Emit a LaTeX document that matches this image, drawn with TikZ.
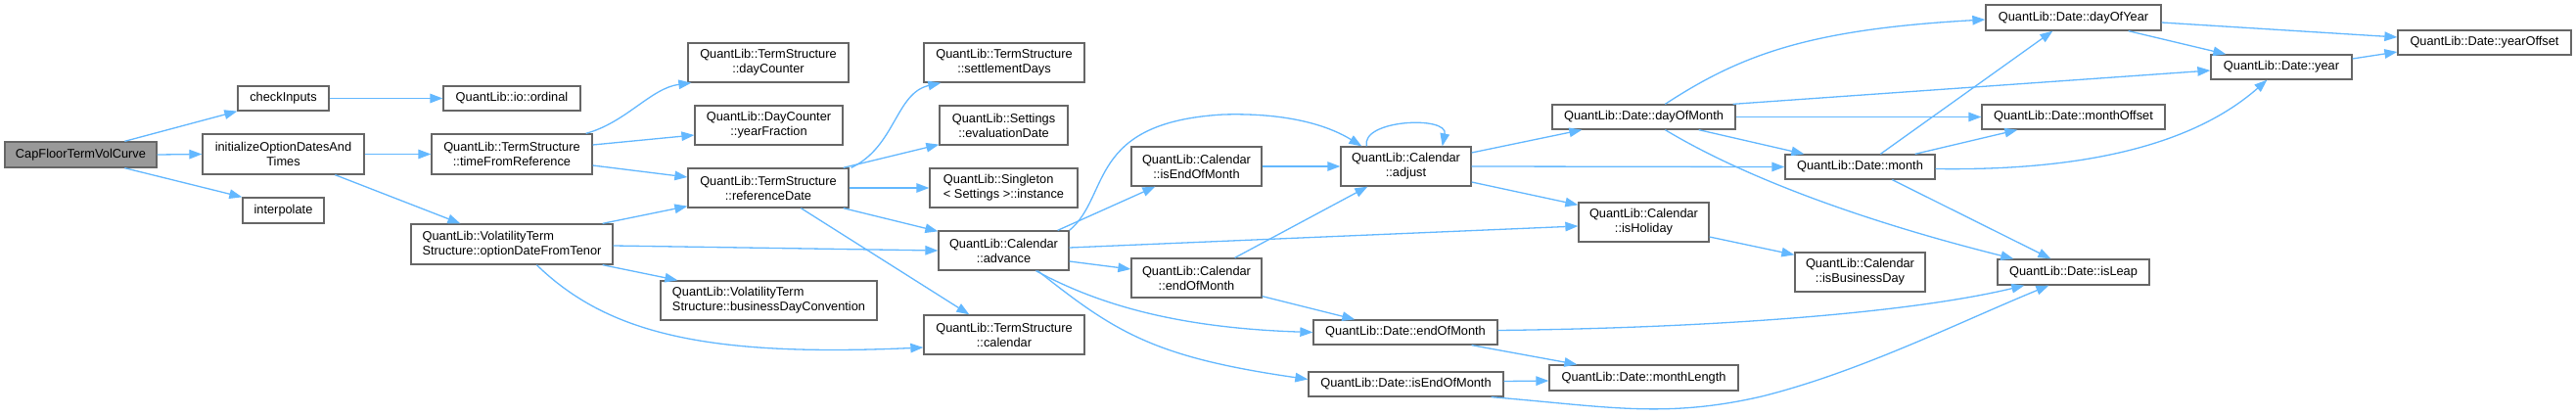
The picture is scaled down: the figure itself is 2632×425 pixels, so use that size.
\documentclass[tikz,border=0pt]{standalone}
\usepackage{fontspec}
\setmainfont{Liberation Sans}
\usetikzlibrary{arrows.meta,calc}
\definecolor{edgeblue}{HTML}{63B8FF}
\definecolor{boxborder}{HTML}{666666}
\definecolor{rootfill}{HTML}{999999}
\begin{document}
\begin{tikzpicture}[x=1pt,y=-1pt,
  fn/.style={draw=boxborder, fill=white, line width=1.3pt, inner sep=0pt,
    font=\fontsize{12.8}{15}\selectfont, align=center, text=black},
  rootnode/.style={fn, fill=rootfill},
  call/.style={draw=edgeblue, line width=1.3pt, -{Triangle[length=13pt,width=9.5pt]}}]
\fill[white] (0,0) rectangle (2632,425);
\useasboundingbox (0,0) rectangle (2632,425);

% nodes
\node[rootnode, minimum width=155pt, minimum height=26pt] (root) at (82.5,158) {CapFloorTermVolCurve};
\node[fn, minimum width=93pt, minimum height=25pt] (check) at (289.5,100.5) {checkInputs};
\node[fn, minimum width=165pt, minimum height=41pt] (init) at (289.5,157.5) {initializeOptionDatesAnd\\Times};
\node[fn, minimum width=83pt, minimum height=26pt] (interp) at (289.5,215) {interpolate};
\node[fn, minimum width=140pt, minimum height=25pt] (ordinal) at (523,100.5) {QuantLib::io::ordinal};
\node[fn, minimum width=164pt, minimum height=41pt] (tfr) at (523,157.5) {QuantLib::TermStructure\\::timeFromReference};
\node[fn, align=left, minimum width=206pt, minimum height=41pt] (odft) at (523,249.5) {QuantLib::VolatilityTerm\\Structure::optionDateFromTenor};
\node[fn, minimum width=164pt, minimum height=40pt] (dayc) at (785,64) {QuantLib::TermStructure\\::dayCounter};
\node[fn, minimum width=151pt, minimum height=40pt] (yfrac) at (785.5,128) {QuantLib::DayCounter\\::yearFraction};
\node[fn, minimum width=164pt, minimum height=40pt] (refd) at (785,192) {QuantLib::TermStructure\\::referenceDate};
\node[fn, align=left, minimum width=221pt, minimum height=40pt] (bdc) at (785.5,307) {QuantLib::VolatilityTerm\\Structure::businessDayConvention};
\node[fn, minimum width=164pt, minimum height=40pt] (settle) at (1026,64) {QuantLib::TermStructure\\::settlementDays};
\node[fn, minimum width=131pt, minimum height=40pt] (evald) at (1025.5,128) {QuantLib::Settings\\::evaluationDate};
\node[fn, align=left, minimum width=151pt, minimum height=40pt] (inst) at (1025.5,192) {QuantLib::Singleton\\< Settings >::instance};
\node[fn, minimum width=133pt, minimum height=40pt] (adv) at (1025.5,256) {QuantLib::Calendar\\::advance};
\node[fn, minimum width=164pt, minimum height=40pt] (tscal) at (1026,342) {QuantLib::TermStructure\\::calendar};
\node[fn, minimum width=133pt, minimum height=40pt] (cieom) at (1222.5,170) {QuantLib::Calendar\\::isEndOfMonth};
\node[fn, minimum width=133pt, minimum height=40pt] (ceom) at (1222.5,284) {QuantLib::Calendar\\::endOfMonth};
\node[fn, minimum width=133pt, minimum height=40pt] (adjust) at (1436.5,170) {QuantLib::Calendar\\::adjust};
\node[fn, minimum width=187pt, minimum height=25pt] (dom) at (1679.5,119.5) {QuantLib::Date::dayOfMonth};
\node[fn, minimum width=153pt, minimum height=25pt] (month) at (1900.5,170.5) {QuantLib::Date::month};
\node[fn, minimum width=133pt, minimum height=40pt] (hol) at (1679.5,227) {QuantLib::Calendar\\::isHoliday};
\node[fn, minimum width=133pt, minimum height=40pt] (bday) at (1900.5,278) {QuantLib::Calendar\\::isBusinessDay};
\node[fn, minimum width=188pt, minimum height=25pt] (deom) at (1436,339.5) {QuantLib::Date::endOfMonth};
\node[fn, minimum width=193pt, minimum height=26pt] (mlen) at (1679.5,386) {QuantLib::Date::monthLength};
\node[fn, minimum width=199pt, minimum height=25pt] (disEom) at (1436.5,392.5) {QuantLib::Date::isEndOfMonth};
\node[fn, minimum width=179pt, minimum height=26pt] (doy) at (2118.5,18) {QuantLib::Date::dayOfYear};
\node[fn, minimum width=177pt, minimum height=25pt] (yoff) at (2538.5,43.5) {QuantLib::Date::yearOffset};
\node[fn, minimum width=144pt, minimum height=25pt] (year) at (2331,68.5) {QuantLib::Date::year};
\node[fn, minimum width=187pt, minimum height=25pt] (moff) at (2118.5,119.5) {QuantLib::Date::monthOffset};
\node[fn, minimum width=155pt, minimum height=26pt] (leap) at (2118.5,278) {QuantLib::Date::isLeap};

% edges
\draw[call] ($(root.north west)+(123,0)$) -- (check.south west);
\draw[call] (root.east) -- (init.west);
\draw[call] ($(root.south west)+(123,0)$) -- (interp.north west);
\draw[call] (check.east) -- (ordinal.west);
\draw[call] (init.east) -- (tfr.west);
\draw[call] ($(init.south west)+(136,0)$) -- ($(odft.north west)+(51,0)$);
\draw[call] ($(tfr.north east)+(-7,0)$) .. controls (640,125) and (665,90) .. ($(dayc.south west)+(4,0)$);
\draw[call] ($(tfr.east)+(0,-9.5)$) -- ($(yfrac.west)+(0,10)$);
\draw[call] ($(tfr.east)+(0,11.5)$) -- ($(refd.west)+(0,-11)$);
\draw[call] ($(odft.north east)+(-11,0)$) -- ($(refd.south west)+(0,-2)$);
\draw[call] ($(odft.east)+(0,1.5)$) -- (adv.west);
\draw[call] ($(odft.south east)+(-11,0)$) -- ($(bdc.north west)+(18,0)$);
\draw[call] ($(odft.south west)+(129,0)$) .. controls (620,340) and (720,365) .. ($(tscal.west)+(0,13)$);
\draw[call] ($(refd.north east)+(2,0)$) .. controls (915,150) and (915,95) .. ($(settle.south west)+(18,0)$);
\draw[call] ($(refd.north east)+(-6,0)$) -- ($(evald.south west)+(0,-1)$);
\draw[call] (refd.east) -- (inst.west);
\draw[call] ($(refd.south east)+(-6,0)$) -- ($(adv.north west)+(0,1)$);
\draw[call] ($(refd.south west)+(116,0)$) -- ($(tscal.north west)+(47,0)$);
\draw[call] ($(adv.north east)+(-12,0)$) -- ($(cieom.south west)+(25,0)$);
\draw[call] (adv.north east) .. controls (1135,200) and (1110,125) .. (1250,117) .. controls (1320,115) and (1360,130) .. ($(adjust.north west)+(22,0)$);
\draw[call] ($(adv.east)+(0,-3)$) -- ($(hol.west)+(0,4)$);
\draw[call] ($(adv.east)+(0,11)$) -- ($(ceom.west)+(0,-9)$);
\draw[call] ($(adv.south west)+(100,0)$) .. controls (1120,310) and (1200,335) .. (deom.west);
\draw[call] ($(adv.south west)+(102,0)$) .. controls (1140,340) and (1180,365) .. ($(disEom.west)+(0,-5)$);
\draw[call] (cieom.east) -- (adjust.west);
\draw[call] ($(ceom.north east)+(-28,0)$) -- ($(adjust.south west)+(28,0)$);
\draw[call] ($(ceom.south east)+(0,-2)$) -- ($(deom.north west)+(43,0)$);
\draw[call] ($(adjust.north west)+(27,0)$) .. controls (1390,122) and (1480,118) .. ($(adjust.north east)+(-30,0)$);
\draw[call] ($(adjust.east)+(0,-14)$) -- ($(dom.south west)+(31,0)$);
\draw[call] (adjust.east) -- (month.west);
\draw[call] ($(adjust.east)+(0,16)$) -- ($(hol.north west)+(0,3)$);
\draw[call] ($(hol.east)+(0,15)$) -- ($(bday.north west)+(0,3)$);
\draw[call] ($(dom.north west)+(116,0)$) .. controls (1780,55) and (1850,30) .. ($(doy.west)+(0,2)$);
\draw[call] ($(dom.north east)+(-3,0)$) -- ($(year.west)+(0,3.5)$);
\draw[call] (dom.east) -- (moff.west);
\draw[call] ($(dom.south east)+(-38,0)$) -- ($(month.north west)+(20,0)$);
\draw[call] ($(dom.south west)+(116,0)$) .. controls (1780,180) and (1900,225) .. ($(leap.north west)+(17,0)$);
\draw[call] ($(month.north west)+(98,0)$) -- ($(doy.south west)+(69,0)$);
\draw[call] ($(month.north east)+(-21,0)$) -- ($(moff.south west)+(37,0)$);
\draw[call] ($(month.east)+(0,2)$) .. controls (2150,175) and (2250,140) .. ($(year.south west)+(58,0)$);
\draw[call] ($(month.south west)+(110,0)$) -- ($(leap.north west)+(55,0)$);
\draw[call] ($(deom.east)+(0,-2)$) .. controls (1750,335) and (1950,320) .. ($(leap.south west)+(28,0)$);
\draw[call] ($(deom.south east)+(-27,0)$) -- ($(mlen.north west)+(29,0)$);
\draw[call] ($(disEom.east)+(0,-3)$) -- ($(mlen.west)+(0,3)$);
\draw[call] ($(disEom.south east)+(-13,0)$) .. controls (1640,415) and (1700,428) .. (1800,405) .. controls (1900,380) and (2000,330) .. ($(leap.south west)+(53,0)$);
\draw[call] ($(doy.south east)+(-34,0)$) -- ($(year.north west)+(16,0)$);
\draw[call] ($(doy.east)+(0,5)$) -- ($(yoff.west)+(0,-5.5)$);
\draw[call] ($(year.east)+(0,-8.5)$) -- ($(yoff.west)+(0,9.5)$);
\end{tikzpicture}
\end{document}
